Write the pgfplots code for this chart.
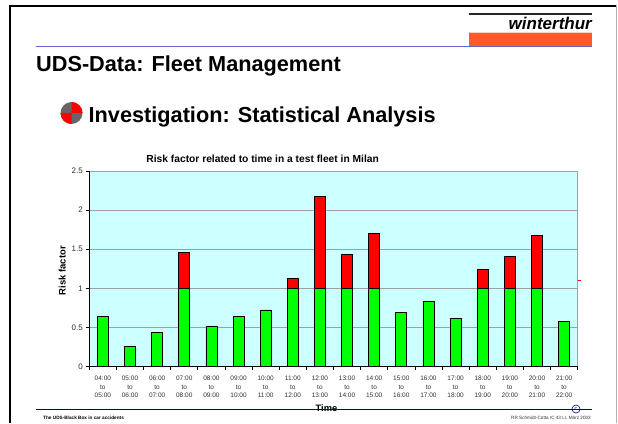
\documentclass[border=0pt]{standalone}
\usepackage{pgfplots}
\pgfplotsset{compat=1.18}
\usepackage{fontspec}
\setmainfont{Liberation Sans}
\definecolor{bgc}{RGB}{204,255,255}
\definecolor{barG}{RGB}{0,255,0}
\definecolor{barR}{RGB}{255,0,0}
\definecolor{logoO}{RGB}{255,90,40}
\definecolor{topB}{RGB}{100,100,205}
\definecolor{footB}{RGB}{0,0,140}
\definecolor{txtG}{RGB}{50,50,50}
\definecolor{gridG}{RGB}{160,160,160}
\begin{document}
\begin{tikzpicture}[x=1pt,y=1pt]
\path[use as bounding box] (0,0) rectangle (618,423);
\fill[white] (0,0) rectangle (618,423);
% slide frame
\fill[black] (9,0) rectangle (11.2,418);
\fill[black] (9,416) rectangle (616,418);
\fill[gray!60] (615.6,0) rectangle (616.6,418);
% logo
\fill[black!85] (469,408) rectangle (592,409.5);
\fill[logoO!30!white] (469,390) rectangle (592,391);
\fill[logoO] (469,377.3) rectangle (592,390);
\node[anchor=east,inner sep=0pt,font=\fontsize{17}{17}\selectfont\bfseries\itshape] at (592,400) {winterthur};
\draw[color=topB,line width=1.2pt] (36,376.3) -- (592,376.3);
\node[anchor=west,inner sep=0pt,font=\fontsize{21.7}{22}\selectfont\bfseries] at (36,357.5) {UDS-Data: Fleet Management};
\node[anchor=west,inner sep=0pt,font=\fontsize{21.7}{22}\selectfont\bfseries] at (88.5,306.5) {Investigation: Statistical Analysis};
% bullet
\fill[gray!80!black] (71.5,310) circle (11);
\fill[barR] (71.5,310) -- (71.5,321) arc (90:0:11) -- cycle;
\fill[barR] (71.5,310) -- (60.5,310) arc (180:270:11) -- cycle;
\begin{axis}[
  at={(89.3pt,56.3pt)},anchor=south west,
  width=488.4pt,height=195.7pt,scale only axis,
  xmin=0,xmax=18,ymin=0,ymax=2.5,
  axis background/.style={fill=bgc},
  ybar stacked,bar width=11pt,bar shift=0pt,
  xtick={0,...,18},xticklabels={},
  xtick pos=bottom,ytick pos=left,
  ytick={0,0.5,1,1.5,2,2.5},
  yticklabels={0,0.5,1,1.5,2,2.5},
  tick align=outside,
  major tick length=3pt,
  tick style={black,line width=0.8pt},
  axis line style={gridG,line width=0.8pt},
  ymajorgrids,grid style={gridG,line width=0.9pt},
  yticklabel style={font=\fontsize{8}{8}\selectfont,text=txtG},
  extra x ticks={0.5,1.5,2.5,3.5,4.5,5.5,6.5,7.5,8.5,9.5,10.5,11.5,12.5,13.5,14.5,15.5,16.5,17.5},
  extra x tick labels={04:00\\to\\05:00,05:00\\to\\06:00,06:00\\to\\07:00,07:00\\to\\08:00,08:00\\to\\09:00,09:00\\to\\10:00,10:00\\to\\11:00,11:00\\to\\12:00,12:00\\to\\13:00,13:00\\to\\14:00,14:00\\to\\15:00,15:00\\to\\16:00,16:00\\to\\17:00,17:00\\to\\18:00,18:00\\to\\19:00,19:00\\to\\20:00,20:00\\to\\21:00,21:00\\to\\22:00},
  extra x tick style={major tick length=0pt,grid=none,
    ticklabel style={font=\fontsize{6.5}{8.6}\selectfont,text=txtG,align=center,yshift=-6pt}},
  xlabel={Time},
  xlabel style={font=\fontsize{9.3}{9}\selectfont\bfseries,at={(axis description cs:0.4855,0)},anchor=north,yshift=-34.5pt},
  ylabel={Risk factor},
  ylabel style={font=\fontsize{9.5}{9}\selectfont\bfseries,at={(axis description cs:0,0.49)},anchor=south,yshift=20pt},
  title={Risk factor related to time in a test fleet in Milan},
  title style={font=\fontsize{10.25}{10}\selectfont\bfseries,at={(axis description cs:0.355,1)},anchor=south,yshift=-1.5pt},
  clip=false,
]
\addplot[fill=barG,draw=black,line width=0.8pt] coordinates {
(0.5,0.64)(1.5,0.256)(2.5,0.435)(3.5,1)(4.5,0.52)(5.5,0.64)(6.5,0.725)(7.5,1)(8.5,1)(9.5,1)(10.5,1)(11.5,0.69)(12.5,0.836)(13.5,0.614)(14.5,1)(15.5,1)(16.5,1)(17.5,0.576)};
\addplot[fill=barR,draw=black,line width=0.8pt] coordinates {
(0.5,0)(1.5,0)(2.5,0)(3.5,0.454)(4.5,0)(5.5,0)(6.5,0)(7.5,0.13)(8.5,1.18)(9.5,0.433)(10.5,0.706)(11.5,0)(12.5,0)(13.5,0)(14.5,0.245)(15.5,0.41)(16.5,0.68)(17.5,0)};
\end{axis}
\draw[black,line width=0.9pt] (89.3,251.8) -- (89.3,56.3) -- (577.7,56.3);
\draw[barR,line width=0.9pt] (577.7,142.3) -- (581,142.3);
% footer
\draw[color=footB,line width=0.9pt] (36,14) -- (591.5,14);
\draw[color=footB,line width=0.6pt] (576,14) circle (4);
\node[inner sep=0pt,font=\fontsize{5.5}{5}\selectfont,text=footB] at (576,14) {c};
\node[anchor=west,inner sep=0pt,font=\fontsize{4.7}{5}\selectfont\bfseries] at (43,5) {The UDS-Black Box in car accidents};
\node[anchor=east,inner sep=0pt,font=\fontsize{4.65}{5}\selectfont,text=txtG] at (591,5) {RR Schmidt-Cotta IC 43 LI, März 2003};
\end{tikzpicture}
\end{document}
